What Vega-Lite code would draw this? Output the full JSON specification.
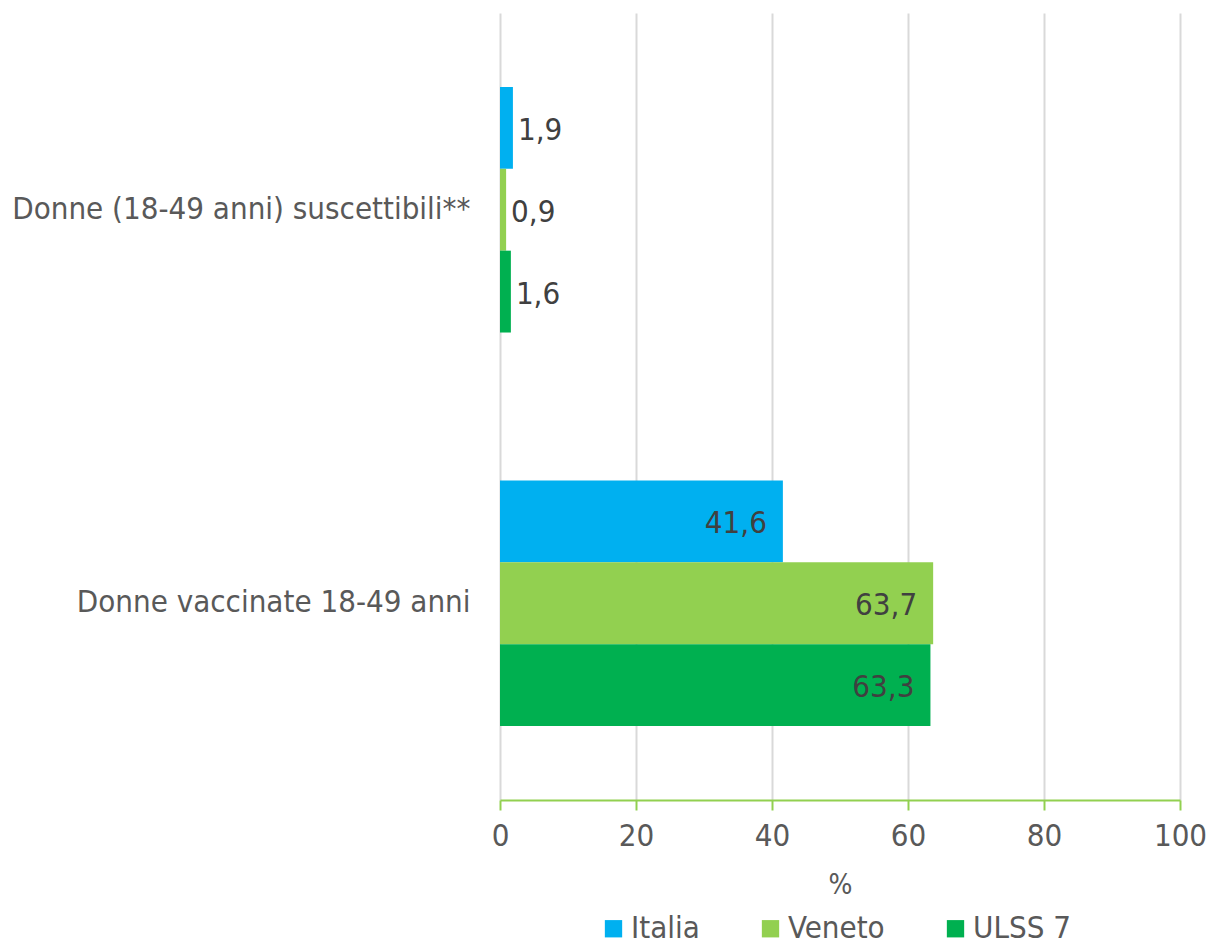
{
  "$schema": "https://vega.github.io/schema/vega-lite/v6.json",
  "width": 680,
  "height": 787,
  "autosize": {"type": "none"},
  "padding": {"left": 500, "top": 13, "right": 28, "bottom": 145},
  "background": "white",
  "config": {
    "view": {"stroke": null},
    "font": "DejaVu Sans Condensed",
    "locale": {"number": {"decimal": ",", "thousands": ".", "grouping": [3], "currency": ["€", ""]}}
  },
  "data": {
    "values": [
      {"categoria": "Donne (18-49 anni) suscettibili**", "area": "Italia", "valore": 1.9},
      {"categoria": "Donne (18-49 anni) suscettibili**", "area": "Veneto", "valore": 0.9},
      {"categoria": "Donne (18-49 anni) suscettibili**", "area": "ULSS 7", "valore": 1.6},
      {"categoria": "Donne vaccinate 18-49 anni", "area": "Italia", "valore": 41.6},
      {"categoria": "Donne vaccinate 18-49 anni", "area": "Veneto", "valore": 63.7},
      {"categoria": "Donne vaccinate 18-49 anni", "area": "ULSS 7", "valore": 63.3}
    ]
  },
  "encoding": {
    "y": {
      "field": "categoria", "type": "nominal", "sort": null,
      "scale": {"paddingInner": 0.376, "paddingOuter": 0.188},
      "axis": {"title": null, "domain": false, "ticks": false, "grid": false, "labelFontSize": 31, "labelColor": "#595959", "labelPadding": 30, "labelLimit": 600}
    },
    "yOffset": {"field": "area", "type": "nominal", "sort": ["Italia", "Veneto", "ULSS 7"], "scale": {"paddingInner": 0, "paddingOuter": 0}},
    "x": {
      "field": "valore", "type": "quantitative",
      "scale": {"domain": [0, 100], "nice": false},
      "axis": {"title": "%", "titleFontSize": 28, "titleFontWeight": "normal", "titleColor": "#595959", "titlePadding": 20,
        "values": [0, 20, 40, 60, 80, 100], "format": "d", "labelFlush": false,
        "domainColor": "#92D050", "domainWidth": 2, "tickColor": "#92D050", "tickWidth": 2, "tickSize": 10,
        "gridColor": "#D9D9D9", "gridWidth": 2,
        "labelFontSize": 31, "labelColor": "#595959", "labelPadding": 11}
    }
  },
  "layer": [
    {
      "mark": {"type": "bar"},
      "encoding": {
        "color": {
          "field": "area", "type": "nominal",
          "scale": {"domain": ["Italia", "Veneto", "ULSS 7"], "range": ["#00B0F0", "#92D050", "#00B050"]},
          "legend": {"title": null, "orient": "none", "direction": "horizontal", "legendX": 98, "legendY": 900,
            "symbolType": "square", "symbolSize": 300, "symbolStrokeWidth": 0, "labelFontSize": 31, "labelColor": "#595959",
            "columnPadding": 55, "labelOffset": 2}
        }
      }
    },
    {
      "transform": [{"filter": "datum.valore < 10"}],
      "mark": {"type": "text", "align": "left", "dx": 5, "dy": 3, "fontSize": 31, "color": "#404040"},
      "encoding": {"text": {"field": "valore", "type": "quantitative", "format": ".1f"}}
    },
    {
      "transform": [{"filter": "datum.valore >= 10"}],
      "mark": {"type": "text", "align": "right", "dx": -16, "dy": 3, "fontSize": 31, "color": "#404040"},
      "encoding": {"text": {"field": "valore", "type": "quantitative", "format": ".1f"}}
    }
  ]
}
